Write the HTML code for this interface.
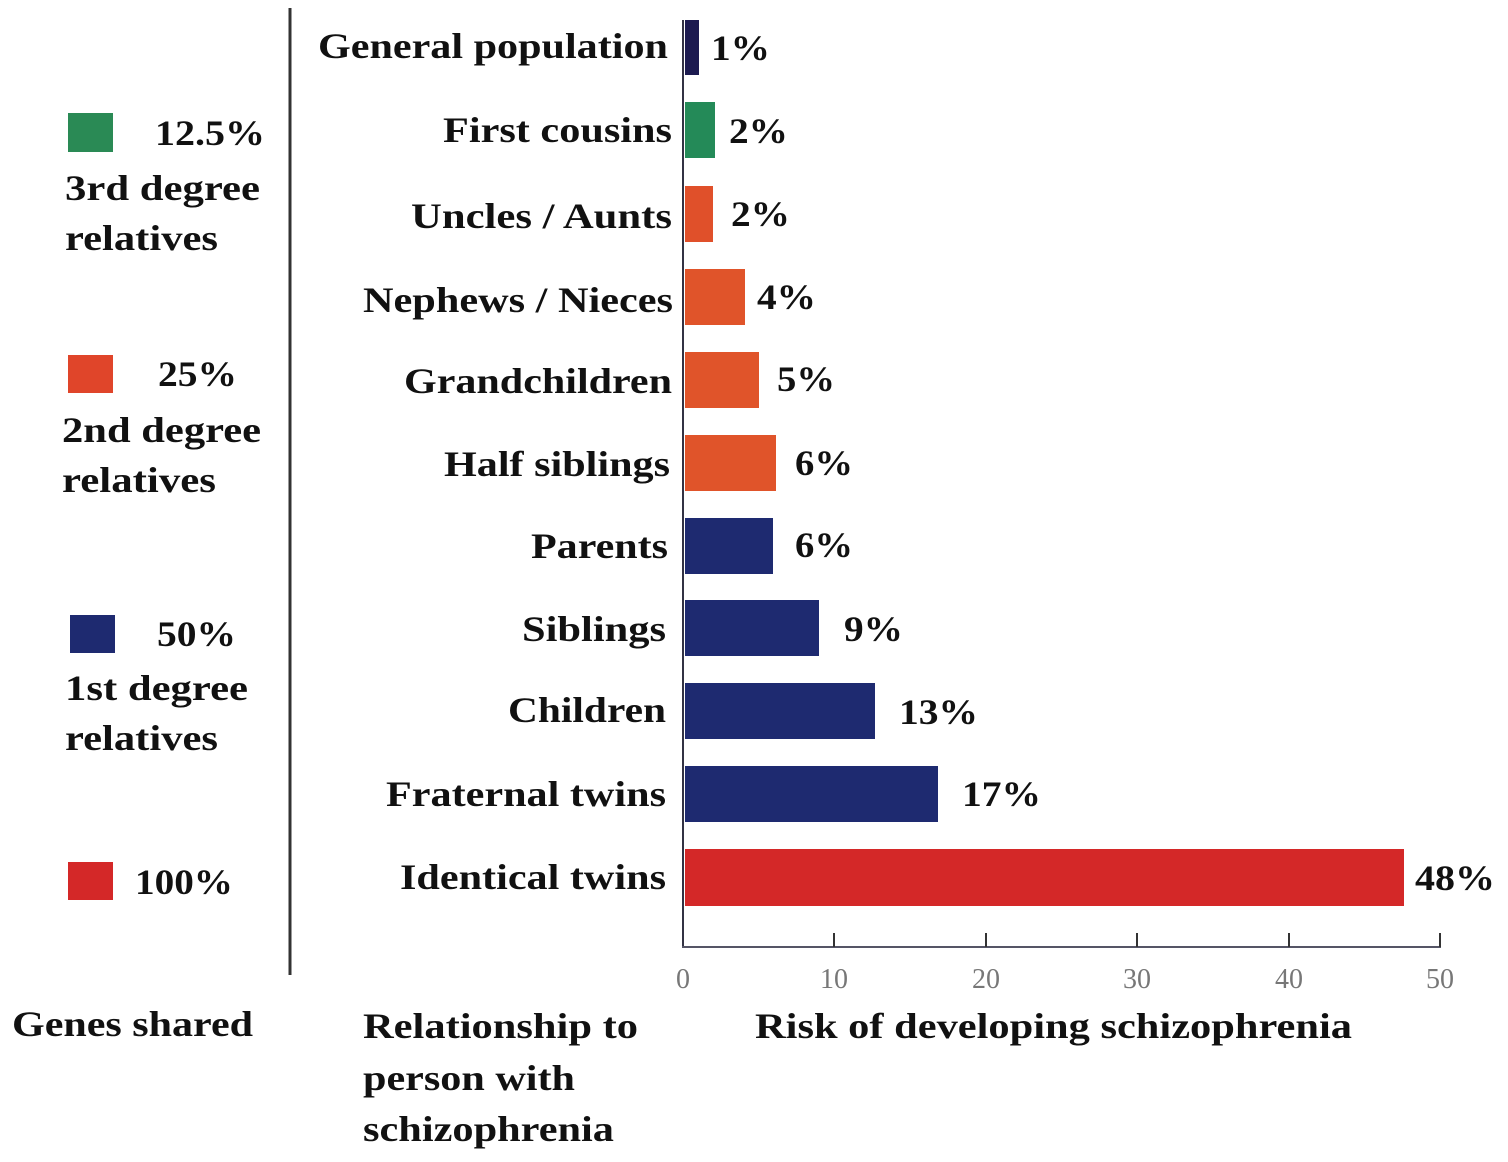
<!DOCTYPE html>
<html><head><meta charset="utf-8"><style>
html,body{margin:0;padding:0;background:#fff;}
svg{display:block;}
.t{font-family:"Liberation Serif",serif;font-weight:bold;font-size:36px;fill:#111;}
.k{font-family:"Liberation Serif",serif;font-size:28px;fill:#777;text-anchor:middle;}
</style></head><body>
<svg width="1508" height="1162" viewBox="0 0 1508 1162">
<rect width="1508" height="1162" fill="#fff"/>
<line x1="290" y1="8" x2="290" y2="975" stroke="#333" stroke-width="3"/>
<line x1="683" y1="20" x2="683" y2="947" stroke="#334" stroke-width="2"/>
<line x1="682" y1="947" x2="1441" y2="947" stroke="#556" stroke-width="2"/>
<g stroke="#333" stroke-width="2">
<line x1="834" y1="933" x2="834" y2="947"/><line x1="986" y1="933" x2="986" y2="947"/>
<line x1="1137" y1="933" x2="1137" y2="947"/><line x1="1289" y1="933" x2="1289" y2="947"/>
<line x1="1440" y1="933" x2="1440" y2="947"/></g>
<g class="k"><text x="683" y="988">0</text><text x="834" y="988">10</text><text x="986" y="988">20</text><text x="1137" y="988">30</text><text x="1289" y="988">40</text><text x="1440" y="988">50</text></g>
<rect x="685" y="20" width="14" height="55" fill="#1c1a50"/>
<rect x="685" y="102" width="30" height="56" fill="#248a58"/>
<rect x="685" y="186" width="28" height="56" fill="#e0502a"/>
<rect x="685" y="269" width="60" height="56" fill="#e0542a"/>
<rect x="685" y="352" width="74" height="56" fill="#e0542a"/>
<rect x="685" y="435" width="91" height="56" fill="#e0542a"/>
<rect x="685" y="518" width="88" height="56" fill="#1e2a70"/>
<rect x="685" y="600" width="134" height="56" fill="#1e2a70"/>
<rect x="685" y="683" width="190" height="56" fill="#1e2a70"/>
<rect x="685" y="766" width="253" height="56" fill="#1e2a70"/>
<rect x="685" y="849" width="719" height="57" fill="#d42828"/>
<g class="t">
<text x="318" y="58" textLength="350" lengthAdjust="spacingAndGlyphs">General population</text>
<text x="443" y="142" textLength="229" lengthAdjust="spacingAndGlyphs">First cousins</text>
<text x="411" y="228" textLength="261" lengthAdjust="spacingAndGlyphs">Uncles / Aunts</text>
<text x="363" y="312" textLength="310" lengthAdjust="spacingAndGlyphs">Nephews / Nieces</text>
<text x="404" y="393" textLength="268" lengthAdjust="spacingAndGlyphs">Grandchildren</text>
<text x="444" y="476" textLength="226" lengthAdjust="spacingAndGlyphs">Half siblings</text>
<text x="531" y="558" textLength="137" lengthAdjust="spacingAndGlyphs">Parents</text>
<text x="522" y="641" textLength="144" lengthAdjust="spacingAndGlyphs">Siblings</text>
<text x="508" y="722" textLength="158" lengthAdjust="spacingAndGlyphs">Children</text>
<text x="386" y="806" textLength="280" lengthAdjust="spacingAndGlyphs">Fraternal twins</text>
<text x="400" y="889" textLength="266" lengthAdjust="spacingAndGlyphs">Identical twins</text>
<text x="711" y="60" textLength="59" lengthAdjust="spacingAndGlyphs">1%</text>
<text x="729" y="143" textLength="59" lengthAdjust="spacingAndGlyphs">2%</text>
<text x="731" y="226" textLength="59" lengthAdjust="spacingAndGlyphs">2%</text>
<text x="757" y="309" textLength="59" lengthAdjust="spacingAndGlyphs">4%</text>
<text x="777" y="391" textLength="58" lengthAdjust="spacingAndGlyphs">5%</text>
<text x="795" y="475" textLength="58" lengthAdjust="spacingAndGlyphs">6%</text>
<text x="795" y="557" textLength="58" lengthAdjust="spacingAndGlyphs">6%</text>
<text x="844" y="641" textLength="59" lengthAdjust="spacingAndGlyphs">9%</text>
<text x="899" y="724" textLength="79" lengthAdjust="spacingAndGlyphs">13%</text>
<text x="962" y="806" textLength="79" lengthAdjust="spacingAndGlyphs">17%</text>
<text x="1415" y="890" textLength="80" lengthAdjust="spacingAndGlyphs">48%</text>
</g>
<rect x="68" y="113" width="45" height="39" fill="#2a8a55"/>
<rect x="68" y="355" width="45" height="38" fill="#e0452a"/>
<rect x="70" y="615" width="45" height="38" fill="#1e2a70"/>
<rect x="68" y="862" width="45" height="38" fill="#d42828"/>
<g class="t">
<text x="155" y="145" textLength="110" lengthAdjust="spacingAndGlyphs">12.5%</text>
<text x="65" y="200" textLength="195" lengthAdjust="spacingAndGlyphs">3rd degree</text>
<text x="65" y="250" textLength="153" lengthAdjust="spacingAndGlyphs">relatives</text>
<text x="158" y="386" textLength="79" lengthAdjust="spacingAndGlyphs">25%</text>
<text x="62" y="442" textLength="199" lengthAdjust="spacingAndGlyphs">2nd degree</text>
<text x="62" y="492" textLength="154" lengthAdjust="spacingAndGlyphs">relatives</text>
<text x="157" y="646" textLength="79" lengthAdjust="spacingAndGlyphs">50%</text>
<text x="65" y="700" textLength="183" lengthAdjust="spacingAndGlyphs">1st degree</text>
<text x="65" y="750" textLength="153" lengthAdjust="spacingAndGlyphs">relatives</text>
<text x="135" y="894" textLength="98" lengthAdjust="spacingAndGlyphs">100%</text>
<text x="12" y="1036" textLength="241" lengthAdjust="spacingAndGlyphs">Genes shared</text>
<text x="363" y="1038" textLength="275" lengthAdjust="spacingAndGlyphs">Relationship to</text>
<text x="363" y="1090" textLength="212" lengthAdjust="spacingAndGlyphs">person with</text>
<text x="363" y="1141" textLength="251" lengthAdjust="spacingAndGlyphs">schizophrenia</text>
<text x="755" y="1038" textLength="597" lengthAdjust="spacingAndGlyphs">Risk of developing schizophrenia</text>
</g>
</svg>
</body></html>
